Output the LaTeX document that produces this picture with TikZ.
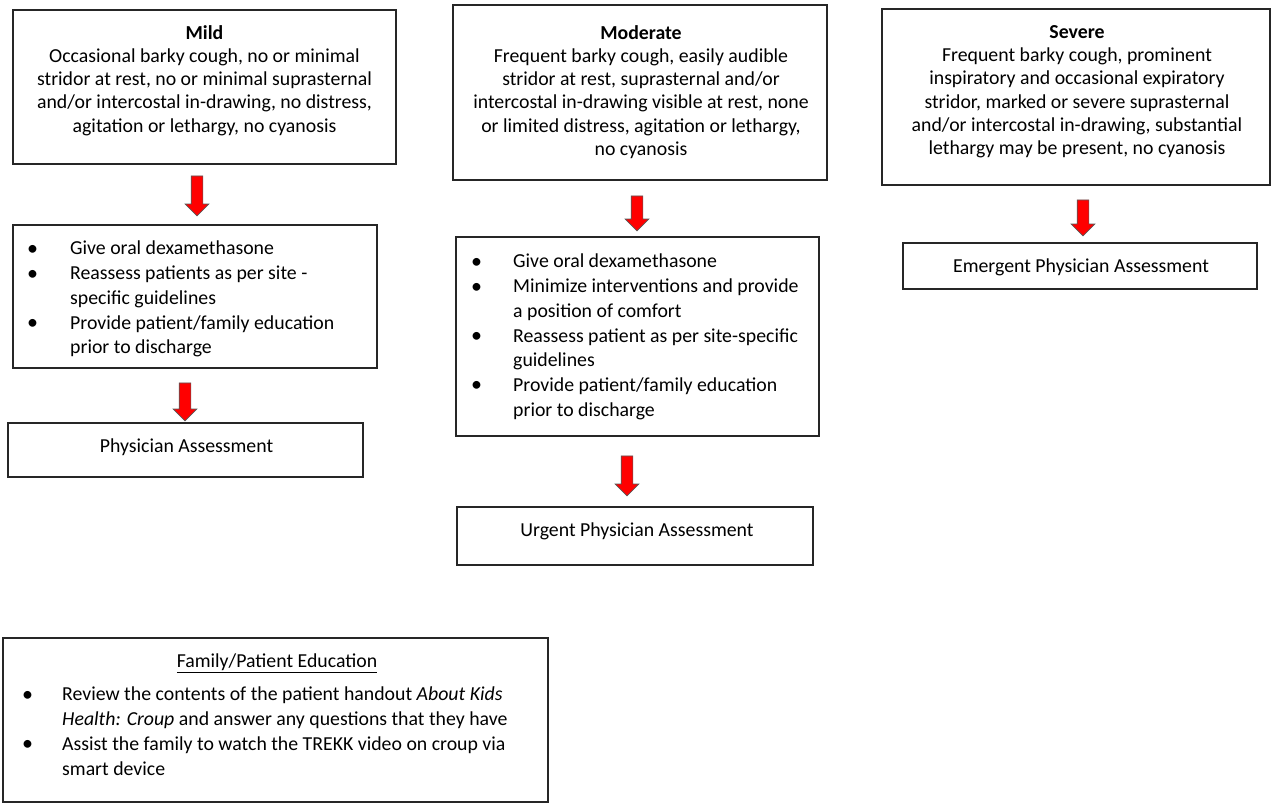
\documentclass[tikz,border=0pt]{standalone}
\usepackage{fontspec}
\setmainfont{Carlito}
\usetikzlibrary{shapes.arrows}
\newcommand\litem[2]{\par\spaceskip=0pt\xspaceskip=0pt\noindent\hangindent=#1\hangafter=1\makebox[#1][l]{\raisebox{-0.5pt}{\fontsize{22}{22}\selectfont\textbullet}}#2\par}
\tikzset{
  frame/.style={draw=black!85, line width=1.2pt, inner sep=0pt, fill=white},
  ctxt/.style={inner sep=0pt, align=center, font=\fontsize{19.8}{23.3}\selectfont},
  ltxt/.style={inner sep=0pt, align=left, anchor=north west, font=\fontsize{19.8}{24.7}\selectfont},
  redarrow/.style={single arrow, draw=black!65, line width=0.7pt, fill=red, rotate=-90,
    inner xsep=0pt, inner ysep=5.5pt, single arrow head extend=6pt,
    single arrow head indent=0pt, single arrow tip angle=90}
}
\begin{document}
\begin{tikzpicture}[x=1pt,y=-1pt]
\useasboundingbox[fill=white] (0,0) rectangle (1272,804);

% frames
\node[frame, minimum width=383, minimum height=154] (mild) at (204.5,87) {};
\node[frame, minimum width=374, minimum height=175] (mod) at (640,92.5) {};
\node[frame, minimum width=388, minimum height=176] (sev) at (1076,97) {};
\node[frame, minimum width=364, minimum height=143] (mildb) at (195,296.5) {};
\node[frame, minimum width=363, minimum height=199] (modb) at (637.5,336.5) {};
\node[frame, minimum width=355, minimum height=54] (phys) at (185.5,450) {};
\node[frame, minimum width=356, minimum height=58] (urg) at (635,536) {};
\node[frame, minimum width=354, minimum height=46] (emer) at (1080,266) {};
\node[frame, minimum width=545, minimum height=164] (fam) at (275.5,720) {};

% severity texts
\node[ctxt, anchor=north] (mildt) at (204.5,25) {\textbf{Mild}\\Occasional barky cough, no or minimal\\stridor at rest, no or minimal suprasternal\\and/or intercostal in-drawing, no distress,\\agitation or lethargy, no cyanosis};
\node[ctxt, anchor=north] (modt) at (641,25) {\textbf{Moderate}\\Frequent barky cough, easily audible\\stridor at rest, suprasternal and/or\\intercostal in-drawing visible at rest, none\\or limited distress, agitation or lethargy,\\no cyanosis};
\node[ctxt, anchor=north] (sevt) at (1077,25) {\textbf{Severe}\\Frequent barky cough, prominent\\inspiratory and occasional expiratory\\stridor, marked or severe suprasternal\\and/or intercostal in-drawing, substantial\\lethargy may be present, no cyanosis};

% lists
\node[ltxt, text width=360pt] (mildl) at (27,230) {%
\litem{43pt}{Give oral dexamethasone}%
\litem{43pt}{Reassess patients as per site -\newline specific guidelines}%
\litem{43pt}{Provide patient/family education\newline prior to discharge}};
\node[ltxt, text width=360pt] (modl) at (471,243) {%
\litem{42pt}{Give oral dexamethasone}%
\litem{42pt}{Minimize interventions and provide\newline a position of comfort}%
\litem{42pt}{Reassess patient as per site-specific\newline guidelines}%
\litem{42pt}{Provide patient/family education\newline prior to discharge}};

% outcome labels
\node[ctxt] (physt) at (186.5,447) {Physician Assessment};
\node[ctxt] (urgt) at (637,531) {Urgent Physician Assessment};
\node[ctxt] (emert) at (1081,267) {Emergent Physician Assessment};

% family education
\node[ctxt] (famt) at (277,663) {\underline{Family/Patient Education}};
\node[ltxt, text width=530pt] (faml) at (22,676) {%
\litem{40pt}{Review the contents of the patient handout \textit{About Kids}\newline \textit{Health: Croup} and answer any questions that they have}%
\litem{40pt}{Assist the family to watch the TREKK video on croup via\newline smart device}};

% arrows
\node[redarrow, minimum height=40pt] (a1) at (197,193) {};
\node[redarrow, minimum height=38pt] (a2) at (185,399) {};
\node[redarrow, minimum height=35pt] (a3) at (637,210.5) {};
\node[redarrow, minimum height=40pt] (a4) at (627,473) {};
\node[redarrow, minimum height=36pt] (a5) at (1083,215) {};
\end{tikzpicture}
\end{document}
